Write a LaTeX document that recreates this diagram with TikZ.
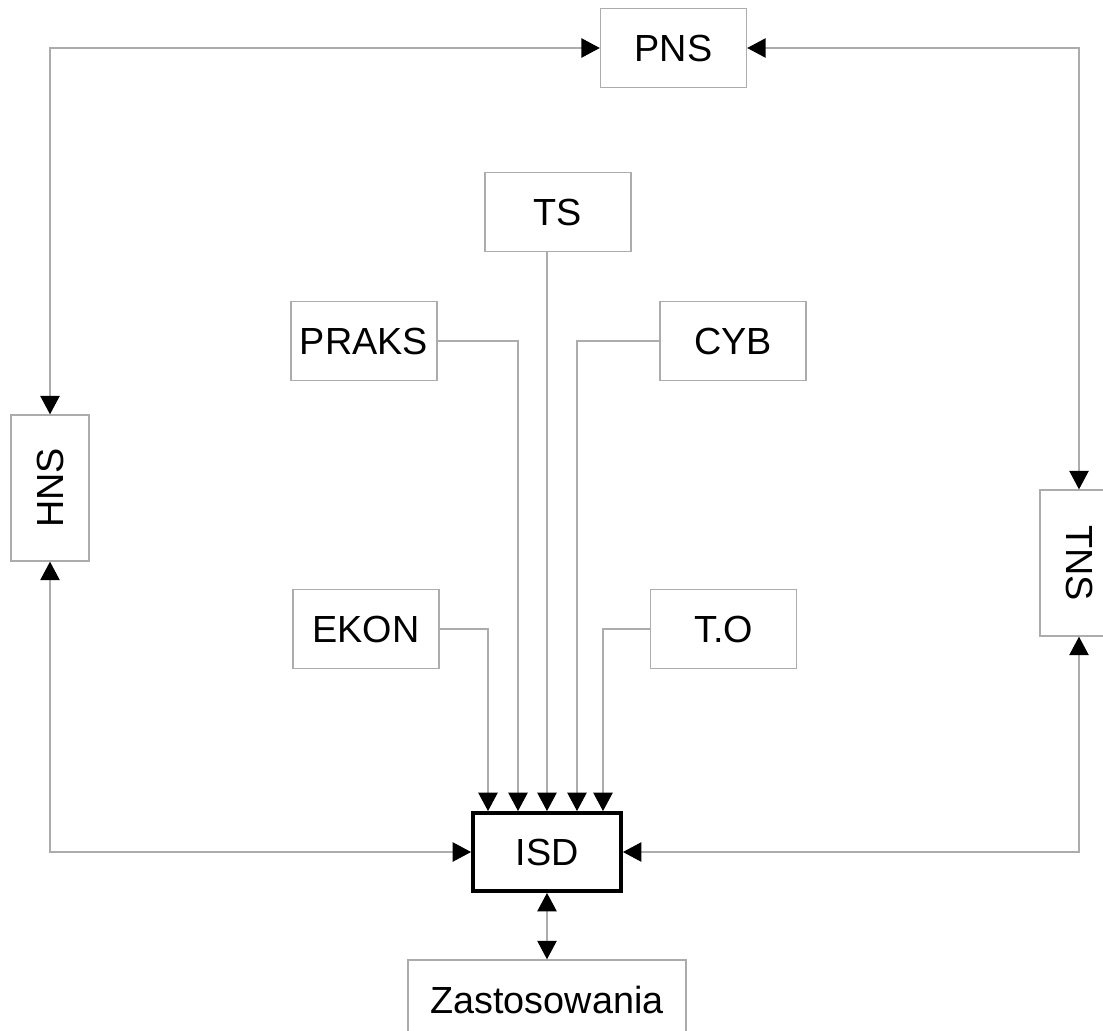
\documentclass[tikz,border=0pt]{standalone}
\usepackage{fontspec}
\setmainfont{Liberation Sans}
\usetikzlibrary{arrows.meta,calc}

\tikzset{
  blok/.style={draw=gray!65, line width=0.8pt, minimum width=2.92cm, minimum height=1.58cm,
    inner sep=0pt, font=\fontsize{21.5}{25}\selectfont},
  pion/.style={blok, minimum width=1.56cm, minimum height=2.92cm},
  glowny/.style={blok, draw=black, line width=2.2pt, minimum width=2.96cm, minimum height=1.56cm},
  grot/.tip={Triangle[length=10.5pt,width=11pt,color=black]},
  jed/.style={draw=gray!65, line width=0.8pt, -{grot}},
  dwa/.style={draw=gray!65, line width=0.8pt, {grot}-{grot}}
}

\begin{document}
\begin{tikzpicture}[x=0.02cm,y=-0.02cm]
\useasboundingbox (0,0) rectangle (1103,1031);

\node[blok] (PNS) at (673.5,48) {PNS};
\node[blok] (TS) at (558,212) {TS};
\node[blok] (PRAKS) at (364,341) {PRAKS};
\node[blok] (CYB) at (733,341) {CYB};
\node[blok] (EKON) at (366,629) {EKON};
\node[blok] (TO) at (723.5,629) {T.O};
\node[pion] (HNS) at (50,488) {\rotatebox{90}{HNS}};
\node[pion] (TNS) at (1079,563) {\rotatebox{-90}{TNS}};
\node[glowny] (ISD) at (547,852) {ISD};
\node[blok, minimum width=5.56cm, minimum height=1.6cm] (ZAS) at (547,1000) {Zastosowania};

% sprzezenia zewnetrzne
\draw[dwa] (HNS.north) |- (PNS.west);
\draw[dwa] (PNS.east) -| (TNS.north);
\draw[dwa] (HNS.south) |- (ISD.west);
\draw[dwa] (TNS.south) |- (ISD.east);
\draw[dwa] (ISD.south) -- (ZAS.north);

% wejscia do ISD
\draw[jed] (EKON.east) -| ($(ISD.north)+(-59,0)$);
\draw[jed] (PRAKS.east) -| ($(ISD.north)+(-29,0)$);
\draw[jed] (TS.south -| ISD.north) -- (ISD.north);
\draw[jed] (CYB.west) -| ($(ISD.north)+(30,0)$);
\draw[jed] (TO.west) -| ($(ISD.north)+(56,0)$);
\end{tikzpicture}
\end{document}
